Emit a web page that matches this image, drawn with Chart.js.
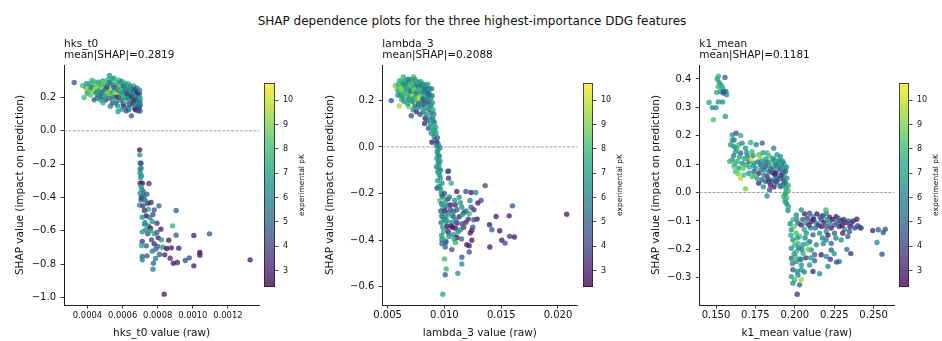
<!DOCTYPE html>
<html>
<head>
<meta charset="utf-8">
<title>SHAP dependence plots</title>
<script src="https://cdn.jsdelivr.net/npm/chart.js@4.4.1/dist/chart.umd.min.js"></script>
<style>
  html, body { margin: 0; padding: 0; background: #fff; }
  #fig { position: relative; width: 942px; height: 341px; overflow: hidden; background: #fff; }
  #fig canvas { position: absolute; top: 0; display: block; }
  #suptitle { position: absolute; left: 0; top: 14px; width: 944px; text-align: center;
              font: 12px "DejaVu Sans", sans-serif; line-height: 14px; color: #111; white-space: nowrap; }
</style>
</head>
<body>
<div id="fig">
  <div id="suptitle">SHAP dependence plots for the three highest-importance DDG features</div>
  <canvas id="panel1"></canvas>
  <canvas id="cbar1"></canvas>
  <canvas id="panel2"></canvas>
  <canvas id="cbar2"></canvas>
  <canvas id="panel3"></canvas>
  <canvas id="cbar3"></canvas>
</div>
<script>
// ---- feature names and summary values -------------------------------------
const featureNames = ['hks_t0', 'lambda_3', 'k1_mean'];
const meanAbsShap  = [0.2819, 0.2088, 0.1181];

// ---- samples: [feature value (raw), SHAP value, experimental pK] -----------
const hksT0Points = [
  [0.000324,0.290,4.5],[0.000372,0.272,8.2],[0.000381,0.200,8.0],[0.000390,0.262,7.6],[0.000398,0.238,9.2],
  [0.000404,0.250,9.6],[0.000400,0.226,7.0],[0.000412,0.282,7.4],[0.000418,0.214,8.6],[0.000425,0.302,7.6],
  [0.000428,0.262,6.8],[0.000433,0.240,9.0],[0.000438,0.186,5.0],[0.000442,0.278,8.4],[0.000447,0.228,6.2],
  [0.000452,0.256,7.8],[0.000457,0.216,8.0],[0.000460,0.292,6.6],[0.000466,0.270,9.4],[0.000470,0.244,7.2],
  [0.000475,0.186,6.8],[0.000478,0.204,4.2],[0.000482,0.262,8.8],[0.000486,0.300,7.0],[0.000490,0.232,6.0],
  [0.000494,0.226,9.0],[0.000498,0.276,7.6],[0.000502,0.250,5.6],[0.000504,0.186,3.5],[0.000508,0.212,7.8],
  [0.000513,0.306,8.0],[0.000516,0.268,6.4],[0.000520,0.240,8.4],[0.000525,0.332,6.8],[0.000528,0.196,4.6],
  [0.000532,0.288,7.4],[0.000535,0.254,9.8],[0.000538,0.226,5.8],[0.000542,0.166,4.5],[0.000546,0.276,6.2],
  [0.000551,0.316,6.6],[0.000554,0.242,7.0],[0.000558,0.208,8.2],[0.000561,0.206,3.0],[0.000564,0.290,7.8],
  [0.000568,0.260,4.8],[0.000571,0.150,6.4],[0.000574,0.116,6.8],[0.000578,0.306,8.0],[0.000581,0.236,6.0],
  [0.000585,0.272,9.2],[0.000588,0.184,5.2],[0.000592,0.218,7.2],[0.000596,0.296,6.4],[0.000599,0.252,8.6],
  [0.000603,0.160,3.8],[0.000606,0.228,5.4],[0.000608,0.146,4.0],[0.000612,0.280,7.0],[0.000616,0.286,8.0],
  [0.000619,0.200,6.2],[0.000622,0.244,4.4],[0.000626,0.176,7.6],[0.000629,0.264,6.6],[0.000632,0.138,5.6],
  [0.000636,0.126,6.8],[0.000638,0.212,3.2],[0.000641,0.232,7.4],[0.000645,0.266,6.0],[0.000648,0.188,4.8],
  [0.000650,0.090,4.5],[0.000653,0.156,6.4],[0.000656,0.248,5.0],[0.000659,0.204,7.8],[0.000662,0.170,3.6],
  [0.000664,0.250,3.0],[0.000667,0.136,5.8],[0.000670,0.222,6.8],[0.000672,0.186,2.8],[0.000674,0.126,2.5],
  [0.000677,0.240,4.2],[0.000680,0.160,6.0],[0.000683,0.236,3.5],[0.000685,0.198,5.4],[0.000688,0.144,3.2],
  [0.000690,0.172,7.0],[0.000692,0.206,6.4],[0.000694,0.130,4.6],[0.000696,0.222,5.6],[0.000698,0.176,4.8],
  [0.000698,0.150,3.0],[0.000700,0.160,6.6],[0.000700,0.196,7.2],[0.000699,0.118,5.2],[0.000566,0.180,8.8],
  [0.000488,0.168,7.4],[0.000452,0.196,5.8],[0.000530,0.148,6.0],[0.000620,0.120,4.0],[0.000596,0.130,7.0],
  [0.000395,0.285,7.0],[0.000410,0.240,8.8],[0.000420,0.260,6.4],[0.000436,0.296,8.2],[0.000445,0.250,9.8],
  [0.000455,0.236,7.0],[0.000463,0.210,6.4],[0.000472,0.280,7.8],[0.000480,0.228,5.4],[0.000492,0.290,8.6],
  [0.000500,0.200,7.0],[0.000510,0.260,4.4],[0.000518,0.222,8.8],[0.000523,0.290,6.0],[0.000537,0.310,7.2],
  [0.000545,0.196,6.6],[0.000550,0.262,5.0],[0.000557,0.228,9.4],[0.000563,0.168,5.6],[0.000570,0.246,7.0],
  [0.000576,0.200,4.0],[0.000583,0.290,6.8],[0.000590,0.254,7.8],[0.000598,0.190,6.6],[0.000604,0.270,5.2],
  [0.000610,0.214,8.0],[0.000615,0.252,6.2],[0.000624,0.222,3.8],[0.000630,0.196,6.8],[0.000634,0.280,7.4],
  [0.000640,0.160,4.4],[0.000646,0.242,6.6],[0.000652,0.206,3.4],[0.000658,0.226,5.8],[0.000663,0.270,7.0],
  [0.000668,0.192,4.2],[0.000675,0.212,6.2],[0.000681,0.256,5.0],[0.000687,0.230,3.0],[0.000693,0.150,5.8],
  [0.000697,0.244,6.6],[0.000686,0.122,4.0],
  [0.000697,-0.114,3.0],[0.000698,-0.144,7.0],[0.000700,-0.194,5.6],[0.000705,-0.194,4.5],[0.000705,-0.224,6.0],
  [0.000700,-0.254,6.2],[0.000707,-0.270,6.6],[0.000700,-0.314,3.0],[0.000712,-0.314,2.8],[0.000750,-0.316,3.5],
  [0.000705,-0.334,7.0],[0.000716,-0.364,4.5],[0.000700,-0.374,6.6],[0.000738,-0.380,4.8],[0.000707,-0.398,3.5],
  [0.000724,-0.410,6.0],[0.000705,-0.414,4.0],[0.000743,-0.434,3.0],[0.000762,-0.430,3.3],[0.000697,-0.446,6.5],
  [0.000716,-0.450,3.5],[0.000807,-0.450,5.0],[0.000746,-0.470,7.5],[0.000724,-0.478,3.5],[0.000780,-0.474,4.5],
  [0.000905,-0.478,4.8],[0.000735,-0.510,2.5],[0.000773,-0.502,4.5],[0.000712,-0.518,6.5],[0.000769,-0.544,7.0],
  [0.000728,-0.550,6.5],[0.000796,-0.554,3.5],[0.000747,-0.570,6.0],[0.000758,-0.584,2.5],[0.000818,-0.590,3.0],
  [0.000885,-0.570,7.8],[0.000731,-0.594,6.0],[0.000712,-0.606,7.0],[0.000743,-0.618,4.5],[0.000780,-0.618,7.5],
  [0.000795,-0.610,5.0],[0.000803,-0.642,3.0],[0.000822,-0.654,7.0],[0.000905,-0.626,4.8],[0.001006,-0.628,3.2],
  [0.001095,-0.618,4.5],[0.000712,-0.664,3.5],[0.000765,-0.654,4.2],[0.000863,-0.656,3.0],[0.000708,-0.688,7.2],
  [0.000735,-0.690,5.0],[0.000780,-0.678,3.3],[0.000799,-0.694,4.5],[0.000829,-0.698,6.0],[0.000852,-0.706,2.5],
  [0.000878,-0.702,3.0],[0.000920,-0.704,3.2],[0.000769,-0.722,6.0],[0.000788,-0.710,5.5],[0.000840,-0.744,3.3],
  [0.000712,-0.754,5.0],[0.000739,-0.750,4.5],[0.000788,-0.766,6.0],[0.000810,-0.742,4.8],[0.000871,-0.764,3.3],
  [0.000889,-0.794,3.0],[0.000912,-0.790,3.0],[0.000957,-0.778,4.5],[0.000980,-0.762,4.5],[0.001006,-0.810,3.0],
  [0.001040,-0.730,2.5],[0.001040,-0.746,3.0],[0.001327,-0.774,3.0],[0.000712,-0.774,6.0],[0.000776,-0.794,5.0],
  [0.000773,-0.830,6.0],[0.000837,-0.980,3.0],[0.000700,-0.230,6.2],[0.000703,-0.282,7.2],[0.000710,-0.350,6.8],
  [0.000720,-0.390,5.6],[0.000730,-0.420,6.8],[0.000755,-0.520,5.8],[0.000725,-0.560,6.4],[0.000760,-0.600,7.2]
];

const lambda3Points = [
  [0.00532,0.199,4.5],[0.00567,0.263,9.0],[0.00626,0.280,8.0],[0.00729,0.301,8.0],[0.00638,0.301,7.6],
  [0.00685,0.173,9.0],[0.00708,0.134,4.5],[0.00796,0.194,9.5],[0.00831,0.123,3.0],[0.00825,0.101,3.5],
  [0.00860,0.080,4.5],[0.00884,0.059,6.5],[0.00890,0.020,3.0],[0.00934,0.020,2.6],[0.00948,0.009,6.5],
  [0.00963,-0.003,6.8],[0.00934,-0.049,6.5],[0.00954,-0.077,7.8],[0.00942,-0.106,6.4],[0.00963,-0.134,6.6],
  [0.01036,-0.103,4.5],[0.01036,-0.134,3.5],[0.00978,-0.156,6.4],[0.01060,-0.156,7.6],[0.00603,0.176,9.5],
  [0.00585,0.245,8.6],[0.00590,0.222,6.8],[0.00595,0.268,7.4],
  [0.00600,0.240,7.2],[0.00610,0.262,8.4],[0.00615,0.225,6.6],[0.00622,0.205,7.8],[0.00628,0.250,9.2],
  [0.00635,0.272,7.0],[0.00640,0.232,8.0],[0.00645,0.196,6.2],[0.00650,0.258,7.6],[0.00655,0.284,6.8],
  [0.00660,0.214,8.8],[0.00662,0.240,5.6],[0.00668,0.268,7.4],[0.00672,0.290,8.2],[0.00676,0.186,7.0],
  [0.00680,0.228,6.4],[0.00684,0.252,9.0],[0.00688,0.205,4.8],[0.00692,0.276,6.6],[0.00696,0.238,7.8],
  [0.00700,0.262,8.6],[0.00703,0.215,7.2],[0.00706,0.290,7.0],[0.00710,0.244,6.0],[0.00714,0.196,8.2],
  [0.00717,0.270,5.4],[0.00720,0.226,9.4],[0.00724,0.160,6.8],[0.00727,0.252,7.4],[0.00730,0.282,6.2],
  [0.00734,0.208,7.0],[0.00737,0.236,8.0],[0.00740,0.178,5.0],[0.00744,0.262,6.6],[0.00747,0.195,9.8],
  [0.00750,0.222,7.6],[0.00754,0.151,3.5],[0.00757,0.275,4.5],[0.00760,0.243,7.2],[0.00763,0.205,8.8],
  [0.00766,0.170,6.4],[0.00770,0.258,5.8],[0.00773,0.228,9.2],[0.00776,0.190,7.0],[0.00780,0.268,6.8],
  [0.00783,0.210,10.0],[0.00786,0.140,4.2],[0.00790,0.236,7.8],[0.00793,0.250,5.2],[0.00797,0.172,6.6],
  [0.00800,0.220,8.4],[0.00803,0.262,4.8],[0.00806,0.198,7.2],[0.00810,0.150,5.6],[0.00813,0.240,6.2],
  [0.00816,0.270,6.6],[0.00820,0.182,4.0],[0.00823,0.216,7.4],[0.00826,0.256,5.8],[0.00830,0.165,6.8],
  [0.00834,0.200,3.8],[0.00837,0.232,6.4],[0.00840,0.140,7.0],[0.00844,0.262,4.6],[0.00847,0.186,6.0],
  [0.00850,0.115,5.0],[0.00853,0.214,7.6],[0.00856,0.244,5.4],[0.00860,0.160,6.6],[0.00863,0.195,4.4],
  [0.00866,0.228,6.2],[0.00870,0.130,7.2],[0.00873,0.176,5.6],[0.00876,0.100,6.4],[0.00880,0.208,7.0],
  [0.00884,0.150,4.8],[0.00887,0.250,6.0],[0.00890,0.085,7.4],[0.00894,0.190,6.6],[0.00897,0.120,5.2],
  [0.00900,0.160,7.8],[0.00904,0.070,6.8],[0.00907,0.140,5.8],[0.00910,0.045,6.2],[0.00913,0.105,7.0],
  [0.00918,0.030,5.4],[0.00922,0.085,6.6],[0.00926,0.060,7.2],[0.00930,0.005,6.0],[0.00935,-0.020,7.6],
  [0.00938,0.040,5.0],[0.00942,-0.030,6.8],[0.00946,-0.065,6.2],[0.00950,-0.090,7.4],[0.00955,-0.040,5.8],
  [0.00958,-0.120,6.6],[0.00962,-0.060,7.0],[0.00930,-0.085,6.4],[0.00940,-0.145,7.2],[0.00952,-0.170,6.0],
  [0.00965,-0.100,5.6],[0.00945,-0.012,6.4],
  [0.00605,0.285,7.8],[0.00618,0.248,9.0],[0.00632,0.216,7.0],[0.00648,0.270,6.4],[0.00658,0.232,8.4],
  [0.00670,0.252,7.2],[0.00682,0.290,6.0],[0.00694,0.200,7.6],[0.00702,0.240,5.8],[0.00712,0.272,8.4],
  [0.00722,0.196,6.6],[0.00732,0.246,9.0],[0.00742,0.290,7.0],[0.00752,0.232,6.2],[0.00762,0.280,7.8],
  [0.00772,0.184,5.4],[0.00782,0.246,8.2],[0.00792,0.280,6.4],[0.00802,0.236,7.0],[0.00812,0.205,4.6],
  [0.00822,0.266,7.2],[0.00832,0.240,5.6],[0.00842,0.206,6.8],[0.00852,0.270,7.4],[0.00862,0.225,5.0],
  [0.00872,0.250,6.6],[0.00882,0.178,7.0],[0.00892,0.220,5.8],[0.00902,0.110,6.6],[0.00916,0.070,7.6],
  [0.00948,-0.113,7.6],[0.01030,-0.106,4.6],[0.01359,-0.166,4.4],[0.00934,-0.177,4.8],[0.00978,-0.206,3.0],
  [0.01109,-0.191,3.2],[0.01189,-0.191,4.4],[0.01235,-0.196,3.0],[0.01276,-0.196,6.2],[0.01130,-0.216,6.6],
  [0.01323,-0.230,4.6],[0.01294,-0.241,3.0],[0.01030,-0.224,3.2],[0.01051,-0.249,2.5],[0.01095,-0.249,3.2],
  [0.01153,-0.259,6.4],[0.01235,-0.259,4.6],[0.01599,-0.253,4.8],[0.02077,-0.289,3.0],[0.01455,-0.299,3.0],
  [0.01570,-0.296,3.2],[0.00978,-0.299,5.0],[0.01036,-0.284,6.6],[0.01083,-0.277,5.0],[0.01218,-0.287,7.8],
  [0.01171,-0.281,3.2],[0.01288,-0.310,3.0],[0.01259,-0.313,4.6],[0.01013,-0.320,6.6],[0.01065,-0.324,6.4],
  [0.01109,-0.327,3.0],[0.01153,-0.330,4.8],[0.01189,-0.324,3.2],[0.01021,-0.341,2.5],[0.01059,-0.339,3.4],
  [0.01098,-0.349,3.0],[0.01142,-0.356,6.6],[0.01241,-0.359,3.0],[0.01397,-0.334,3.0],[0.01418,-0.356,4.8],
  [0.01487,-0.360,3.0],[0.00992,-0.363,7.8],[0.01036,-0.370,4.8],[0.01080,-0.377,6.4],[0.01227,-0.370,3.2],
  [0.01505,-0.401,3.0],[0.01534,-0.413,4.4],[0.01575,-0.384,3.8],[0.01616,-0.387,3.0],[0.00978,-0.399,6.6],
  [0.01013,-0.406,4.8],[0.01109,-0.389,2.6],[0.01098,-0.410,7.8],[0.01241,-0.401,3.0],[0.01197,-0.420,3.2],
  [0.01218,-0.424,3.0],[0.01400,-0.430,3.0],[0.01007,-0.430,4.8],[0.01065,-0.441,4.6],[0.01218,-0.451,4.6],
  [0.01153,-0.474,4.8],[0.01001,-0.481,8.0],[0.01153,-0.503,6.4],[0.01016,-0.524,7.8],[0.01007,-0.549,4.8],
  [0.01118,-0.543,6.6],[0.00986,-0.633,7.4],
  [0.00965,-0.180,6.6],[0.00972,-0.195,7.4],[0.00985,-0.215,6.0],[0.00960,-0.230,8.2],[0.00975,-0.245,5.4],
  [0.00990,-0.260,6.8],[0.00968,-0.275,4.8],[0.00980,-0.290,7.2],[0.00995,-0.310,6.2],[0.00970,-0.325,5.6],
  [0.00985,-0.345,7.0],[0.00975,-0.380,6.6],[0.00990,-0.395,7.8],[0.00978,-0.415,5.2],[0.01000,-0.200,4.4],
  [0.01010,-0.235,7.0],[0.01020,-0.255,5.8],[0.01005,-0.275,3.0],[0.01015,-0.300,6.4],[0.01025,-0.318,7.4],
  [0.01030,-0.360,4.2],[0.01040,-0.385,6.8],[0.01012,-0.410,5.4],[0.01045,-0.215,6.2],[0.01055,-0.270,4.6],
  [0.01065,-0.295,7.2],[0.01070,-0.345,2.6],[0.01080,-0.300,5.6],[0.01090,-0.230,6.6],[0.01085,-0.395,7.6],
  [0.01100,-0.315,6.0],[0.01110,-0.270,5.0],[0.01120,-0.365,6.4],[0.01130,-0.300,3.4],[0.01140,-0.240,7.0],
  [0.01150,-0.395,5.2],[0.01160,-0.290,6.8],[0.01170,-0.345,4.0],[0.01190,-0.275,5.8],[0.01210,-0.310,3.2],
  [0.01225,-0.230,6.0],[0.01250,-0.345,4.4],[0.01260,-0.270,3.8]
];

const k1MeanPoints = [
  [0.1515,0.410,8.0],[0.1508,0.400,7.0],[0.1557,0.405,5.0],[0.1521,0.387,6.6],[0.1536,0.376,6.4],
  [0.1542,0.367,8.0],[0.1515,0.373,7.8],[0.1504,0.352,7.6],[0.1529,0.356,6.8],[0.1551,0.356,4.8],
  [0.1563,0.356,5.2],[0.1567,0.344,6.8],[0.1500,0.299,6.6],[0.1515,0.319,6.8],[0.1542,0.319,6.4],
  [0.1456,0.317,7.4],[0.1477,0.299,6.6],[0.1483,0.256,8.2],[0.1559,0.268,7.0],[0.1546,0.350,4.4],
  [0.1603,0.203,6.6],[0.1628,0.209,4.5],[0.1603,0.185,7.6],[0.1656,0.201,7.8],[0.1614,0.162,6.6],
  [0.1593,0.168,6.8],[0.1645,0.168,8.0],[0.1666,0.174,6.4],[0.1624,0.144,6.8],[0.1656,0.139,5.0],
  [0.1687,0.156,6.6],[0.1755,0.168,6.2],[0.1793,0.174,5.2],[0.1729,0.144,8.0],[0.1771,0.133,8.4],
  [0.1866,0.156,6.4],[0.1824,0.139,7.8],[0.1887,0.133,6.6],[0.1908,0.127,6.8],[0.1603,0.115,6.6],
  [0.1587,0.109,8.0],[0.1635,0.109,7.6],[0.1666,0.103,6.4],[0.1614,0.092,8.4],[0.1645,0.086,6.8],
  [0.1687,0.097,7.6],[0.1708,0.109,5.2],[0.1740,0.103,6.6],[0.1750,0.086,6.8],[0.1782,0.097,4.8],
  [0.1813,0.103,6.6],[0.1856,0.109,7.8],[0.1877,0.097,5.4],[0.1898,0.109,6.8],[0.1929,0.103,6.4],
  [0.1624,0.074,8.2],[0.1656,0.050,9.8],[0.1677,0.062,8.0],[0.1708,0.068,6.6],[0.1740,0.074,5.0],
  [0.1771,0.068,3.0],[0.1803,0.080,6.8],[0.1835,0.074,5.2],[0.1866,0.086,6.6],[0.1908,0.080,4.8],
  [0.1729,0.056,8.2],[0.1761,0.050,6.8],[0.1792,0.045,5.0],[0.1824,0.056,3.2],[0.1845,0.045,6.6],
  [0.1877,0.056,5.4],[0.1919,0.062,6.8],[0.1929,0.045,3.0],[0.1771,0.033,3.4],[0.1813,0.039,6.6],
  [0.1845,0.027,3.0],[0.1887,0.033,6.4],[0.1908,0.021,4.6],[0.1940,0.033,3.2],[0.1950,0.050,6.8],
  [0.1687,0.013,8.8],[0.1944,0.015,6.6],[0.1944,0.000,6.8],[0.1957,0.006,8.0],
  [0.1725,0.118,10.2],[0.1778,0.127,9.4],[0.1641,0.066,9.0],[0.1700,0.128,6.0],[0.1738,0.094,7.2],
  [0.1790,0.110,6.4],[0.1805,0.062,5.8],[0.1840,0.094,6.2],[0.1855,0.070,4.2],[0.1870,0.115,7.0],
  [0.1880,0.040,3.6],[0.1895,0.088,5.6],[0.1915,0.095,6.0],[0.1925,0.070,5.4],[0.1935,0.058,7.4],
  [0.1815,0.118,7.0],[0.1838,0.128,8.2],[0.1860,0.040,4.8],[0.1900,0.050,6.0],[0.1682,0.120,7.4],
  [0.1612,0.130,6.0],[0.1630,0.155,7.2],[0.1720,0.176,7.6],[0.1615,0.185,5.8],[0.1880,0.070,2.8],
  [0.1920,0.026,5.6],[0.1930,0.085,6.6],
  [0.1620,0.100,7.8],[0.1650,0.125,7.0],[0.1672,0.085,8.6],[0.1695,0.140,6.8],[0.1712,0.090,7.4],
  [0.1735,0.130,6.4],[0.1748,0.060,8.0],[0.1765,0.108,5.6],[0.1785,0.080,6.2],[0.1798,0.140,7.2],
  [0.1812,0.090,4.6],[0.1828,0.108,6.0],[0.1832,0.040,3.4],[0.1848,0.080,5.0],[0.1862,0.120,6.8],
  [0.1872,0.065,3.2],[0.1885,0.100,6.2],[0.1892,0.045,5.0],[0.1905,0.115,7.0],[0.1912,0.060,3.8],
  [0.1922,0.110,6.6],[0.1932,0.035,6.0],[0.1942,0.075,4.4],[0.1948,0.090,6.8],[0.1958,0.025,7.6],
  [0.1868,0.020,3.0],[0.1800,0.020,6.4],[0.1840,0.010,4.2],
  [0.1929,-0.014,8.0],[0.1936,-0.026,8.2],[0.1942,-0.035,6.8],[0.1938,-0.005,7.6],[0.1948,-0.018,7.8],
  [0.1950,-0.040,7.2],[0.1824,-0.012,6.4],[0.1956,-0.063,6.6],[0.1960,-0.050,7.4],
  [0.2041,-0.061,6.6],[0.2009,-0.079,6.4],[0.2062,-0.075,3.0],[0.2094,-0.073,4.4],[0.2115,-0.085,6.6],
  [0.2140,-0.075,3.0],[0.2178,-0.082,3.2],[0.2199,-0.073,6.2],[0.2220,-0.087,3.0],[0.2197,-0.061,8.0],
  [0.2262,-0.085,3.0],[0.2294,-0.099,3.2],[0.2325,-0.106,3.0],[0.2357,-0.108,4.4],[0.2393,-0.094,3.0],
  [0.2410,-0.122,6.0],[0.2399,-0.117,4.6],[0.2494,-0.134,3.2],[0.2530,-0.131,4.8],[0.2561,-0.141,4.4],
  [0.2574,-0.129,4.8],[0.2521,-0.176,6.4],[0.2553,-0.217,4.4],[0.1988,-0.096,8.0],[0.2020,-0.108,5.0],
  [0.2041,-0.114,3.2],[0.2073,-0.108,6.4],[0.2104,-0.102,3.0],[0.2136,-0.108,6.2],[0.2167,-0.096,4.6],
  [0.2220,-0.108,6.4],[0.2252,-0.114,4.8],[0.2283,-0.120,3.0],[0.2315,-0.129,6.2],[0.2346,-0.137,4.6],
  [0.2304,-0.143,3.2],[0.2336,-0.155,4.8],[0.1978,-0.131,6.6],[0.2009,-0.143,8.2],[0.2030,-0.155,8.0],
  [0.2073,-0.143,6.4],[0.2115,-0.149,5.0],[0.2157,-0.143,6.4],[0.2199,-0.137,6.6],[0.2252,-0.143,5.0],
  [0.1988,-0.167,6.6],[0.2020,-0.179,8.2],[0.2052,-0.184,6.8],[0.2094,-0.173,4.8],[0.2136,-0.184,6.4],
  [0.2199,-0.167,6.2],[0.2231,-0.179,5.0],[0.2294,-0.167,6.4],[0.1978,-0.196,6.8],[0.2009,-0.208,8.0],
  [0.2052,-0.214,7.6],[0.2104,-0.202,6.6],[0.2125,-0.219,4.8],[0.2167,-0.219,3.0],[0.2199,-0.225,6.4],
  [0.2231,-0.202,5.0],[0.2283,-0.243,6.4],[0.1978,-0.231,5.0],[0.2009,-0.243,6.6],[0.2041,-0.255,6.8],
  [0.2094,-0.255,6.6],[0.2125,-0.240,5.0],[0.1988,-0.272,4.8],[0.2015,-0.278,6.4],[0.1978,-0.296,6.8],
  [0.1999,-0.307,8.0],[0.2041,-0.307,9.2],[0.2030,-0.325,5.0],[0.2115,-0.278,3.2],[0.2157,-0.286,6.4],
  [0.2041,-0.272,6.6],[0.2015,-0.358,3.4],[0.1988,-0.319,6.4],
  [0.1970,-0.110,6.0],[0.1975,-0.150,7.4],[0.1995,-0.120,8.6],[0.2000,-0.185,7.8],[0.2005,-0.225,8.4],
  [0.1985,-0.250,6.2],[0.2025,-0.195,5.6],[0.2030,-0.235,7.0],[0.2020,-0.290,6.0],[0.2060,-0.130,7.2],
  [0.2065,-0.160,6.2],[0.2080,-0.090,4.0],[0.2085,-0.200,8.4],[0.2070,-0.230,3.6],[0.2100,-0.125,6.8],
  [0.2120,-0.095,2.8],[0.2150,-0.115,3.6],[0.2160,-0.085,4.8],[0.2185,-0.105,3.0],[0.2205,-0.095,6.6],
  [0.2240,-0.095,2.8],[0.2270,-0.105,4.2],[0.2310,-0.095,3.4],[0.2350,-0.120,3.0],[0.2380,-0.125,4.0],
  [0.2420,-0.125,3.6],[0.2175,-0.160,5.8],[0.2210,-0.150,3.0],[0.2260,-0.160,6.0],[0.2250,-0.215,6.8],
  [0.2330,-0.200,5.6],[0.2210,-0.260,6.0],[0.2355,-0.215,3.6],[0.2265,-0.245,4.2],
  [0.2012,-0.095,6.8],[0.2050,-0.095,5.2],[0.2090,-0.115,3.4],[0.2130,-0.125,5.6],[0.2170,-0.120,3.2],
  [0.2200,-0.120,4.4],[0.2230,-0.125,3.0],[0.2275,-0.090,5.0],[0.2300,-0.115,2.8],[0.2340,-0.100,4.8],
  [0.2370,-0.100,3.2],[0.2015,-0.160,7.2],[0.2045,-0.200,6.2],[0.2075,-0.180,7.8],[0.2040,-0.235,5.4],
  [0.1995,-0.215,7.0],[0.2060,-0.280,6.0],[0.2100,-0.230,6.8],[0.2180,-0.180,6.0],[0.2225,-0.235,3.6]
];

// ---- tick labels ------------------------------------------------------------
const hksT0Ticks   = [0.0004, 0.0006, 0.0008, 0.0010, 0.0012];
const lambda3Ticks = [0.005, 0.010, 0.015, 0.020];
const k1MeanTicks  = [0.150, 0.175, 0.200, 0.225, 0.250];
const hksT0ShapTicks   = [-1.0, -0.8, -0.6, -0.4, -0.2, 0.0, 0.2];
const lambda3ShapTicks = [-0.6, -0.4, -0.2, 0.0, 0.2];
const k1MeanShapTicks  = [-0.3, -0.2, -0.1, 0.0, 0.1, 0.2, 0.3, 0.4];
const pkTicks = [3, 4, 5, 6, 7, 8, 9, 10];

// colour scale limits for experimental pK
const PK_MIN = 2.33, PK_MAX = 10.7;

// ---- styling ------------------------------------------------------------------
const FONT = '"DejaVu Sans", "Liberation Sans", sans-serif';
const TEXT = '#111';
const AXIS = '#222';
const FIG_H = 341;
const PLOT_TOP = 65, PLOT_BOTTOM = 305;
const CB_TOP = 83, CB_BOTTOM = 287;
const POINT_ALPHA = 0.78;

const VIRIDIS = ['#440154','#482475','#414487','#355f8d','#2a788e','#21918c',
                 '#22a884','#44bf70','#7ad151','#bddf26','#fde725'];

function hexRgb(h) {
  return [parseInt(h.slice(1,3),16), parseInt(h.slice(3,5),16), parseInt(h.slice(5,7),16)];
}
function viridis(t, a) {
  t = Math.min(1, Math.max(0, t));
  const f = t * (VIRIDIS.length - 1);
  const i = Math.min(VIRIDIS.length - 2, Math.floor(f));
  const u = f - i;
  const c0 = hexRgb(VIRIDIS[i]), c1 = hexRgb(VIRIDIS[i + 1]);
  const c = c0.map((v, k) => Math.round(v + (c1[k] - v) * u));
  return `rgba(${c[0]},${c[1]},${c[2]},${a})`;
}
function pkColor(pk, a) {
  return viridis((pk - PK_MIN) / (PK_MAX - PK_MIN), a);
}
function fmtTick(v, dec) {
  return (v < -1e-12 ? '\u2212' : '') + Math.abs(v).toFixed(dec);
}

// dashed zero line and two-line panel heading
const panelDecor = {
  id: 'panelDecor',
  beforeDatasetsDraw(chart) {
    const {ctx, chartArea} = chart;
    const y0 = chart.scales.y.getPixelForValue(0);
    ctx.save();
    ctx.strokeStyle = '#8c8c8c';
    ctx.lineWidth = 0.8;
    ctx.setLineDash([3, 1.4]);
    ctx.beginPath();
    ctx.moveTo(chartArea.left, y0);
    ctx.lineTo(chartArea.right, y0);
    ctx.stroke();
    ctx.restore();
  },
  afterDraw(chart, args, opts) {
    const {ctx, chartArea} = chart;
    ctx.save();
    ctx.fillStyle = TEXT;
    ctx.font = `10.5px ${FONT}`;
    ctx.textAlign = 'left';
    ctx.textBaseline = 'alphabetic';
    (opts.lines || []).forEach((line, i) => ctx.fillText(line, chartArea.left, 46.5 + i * 11.8));
    ctx.restore();
  }
};

// viridis strip, outline and label of a colour bar
const colorbarStrip = {
  id: 'colorbarStrip',
  beforeDraw(chart, args, opts) {
    const {ctx, chartArea: a} = chart;
    const g = ctx.createLinearGradient(0, a.bottom, 0, a.top);
    for (let i = 0; i <= 40; i++) g.addColorStop(i / 40, viridis(i / 40, POINT_ALPHA));
    ctx.save();
    ctx.fillStyle = g;
    ctx.fillRect(a.left, a.top, a.right - a.left, a.bottom - a.top);
    ctx.restore();
  },
  afterDraw(chart, args, opts) {
    const {ctx, chartArea: a} = chart;
    ctx.save();
    ctx.strokeStyle = AXIS;
    ctx.lineWidth = 0.8;
    ctx.strokeRect(a.left + 0.4, a.top + 0.4, a.right - a.left - 0.8, a.bottom - a.top - 0.8);
    ctx.translate(a.right + opts.labelOffset, (a.top + a.bottom) / 2);
    ctx.rotate(-Math.PI / 2);
    ctx.fillStyle = TEXT;
    ctx.font = `7.5px ${FONT}`;
    ctx.textAlign = 'center';
    ctx.textBaseline = 'middle';
    ctx.fillText('experimental pK', 0, 0);
    ctx.restore();
  }
};

function setupCanvas(id, left, width) {
  const c = document.getElementById(id);
  c.width = width; c.height = FIG_H;
  c.style.left = left + 'px';
  c.style.width = width + 'px';
  c.style.height = FIG_H + 'px';
  return c;
}

function makePanel(cfg) {
  const canvas = setupCanvas(cfg.canvasId, cfg.canvasLeft, cfg.canvasWidth);
  const gridOpts = { drawOnChartArea: false, drawTicks: true, tickLength: 3.5, color: AXIS, lineWidth: 0.9 };
  const borderOpts = { display: true, color: AXIS, width: 1 };
  return new Chart(canvas, {
    type: 'scatter',
    data: {
      datasets: [{
        data: cfg.points.map(p => ({ x: p[0], y: p[1], pk: p[2] })),
        backgroundColor: c => pkColor(c.raw ? c.raw.pk : 6, POINT_ALPHA),
        borderWidth: 0,
        pointRadius: 2.7,
        pointHoverRadius: 2.7
      }]
    },
    options: {
      responsive: false, animation: false, devicePixelRatio: 1,
      layout: { padding: { left: 0, top: PLOT_TOP, bottom: 0,
                           right: cfg.canvasLeft + cfg.canvasWidth - cfg.plotRight } },
      plugins: {
        legend: { display: false }, tooltip: { enabled: false },
        panelDecor: { lines: [cfg.feature, 'mean|SHAP|=' + cfg.meanAbs.toFixed(4)] }
      },
      scales: {
        x: {
          type: 'linear', min: cfg.xMin, max: cfg.xMax,
          afterBuildTicks: s => { s.ticks = cfg.xTicks.map(v => ({ value: v })); },
          afterFit: s => { s.height = FIG_H - PLOT_BOTTOM; },
          ticks: { callback: v => fmtTick(v, cfg.xDec), color: TEXT, padding: cfg.xTickPad,
                   autoSkip: false, maxRotation: 0, minRotation: 0,
                   font: { family: FONT, size: cfg.xTickSize } },
          grid: gridOpts, border: borderOpts,
          title: { display: true, text: cfg.feature + ' value (raw)', color: TEXT,
                   font: { family: FONT, size: 10.5 }, padding: { top: 0, bottom: 1 } }
        },
        y: {
          type: 'linear', min: cfg.yMin, max: cfg.yMax,
          afterBuildTicks: s => { s.ticks = cfg.yTicks.map(v => ({ value: v })); },
          afterFit: s => { s.width = cfg.plotLeft - cfg.canvasLeft; },
          ticks: { callback: v => fmtTick(v, 1), color: TEXT, padding: 4.5, autoSkip: false,
                   font: { family: FONT, size: 10 } },
          grid: gridOpts, border: borderOpts,
          title: { display: true, text: 'SHAP value (impact on prediction)', color: TEXT,
                   font: { family: FONT, size: 10.5 },
                   padding: { top: cfg.yTitleX - cfg.canvasLeft - 6.3, bottom: 0 } }
        }
      }
    },
    plugins: [panelDecor]
  });
}

function makeColorbar(id, left, barWidth) {
  const axisW = 42;
  const canvas = setupCanvas(id, left, barWidth + axisW);
  return new Chart(canvas, {
    type: 'scatter',
    data: { datasets: [] },
    options: {
      responsive: false, animation: false, devicePixelRatio: 1,
      layout: { padding: { left: 0, right: 0, top: CB_TOP, bottom: FIG_H - CB_BOTTOM } },
      plugins: { legend: { display: false }, tooltip: { enabled: false },
                 colorbarStrip: { labelOffset: 27 } },
      scales: {
        x: { display: false, min: 0, max: 1 },
        y: {
          position: 'right', min: PK_MIN, max: PK_MAX,
          afterBuildTicks: s => { s.ticks = pkTicks.map(v => ({ value: v })); },
          afterFit: s => { s.width = axisW; },
          ticks: { color: TEXT, padding: 4.5, font: { family: FONT, size: 8 } },
          grid: { drawOnChartArea: false, drawTicks: true, tickLength: 3.5, color: AXIS, lineWidth: 0.8 },
          border: { display: false }
        }
      }
    },
    plugins: [colorbarStrip]
  });
}

makePanel({ canvasId: 'panel1', canvasLeft: 0, canvasWidth: 262, plotLeft: 64, plotRight: 260,
            feature: featureNames[0], meanAbs: meanAbsShap[0], points: hksT0Points,
            xMin: 0.000266, xMax: 0.001379, xTicks: hksT0Ticks, xDec: 4, xTickSize: 8.4, xTickPad: 2.5,
            yMin: -1.045, yMax: 0.395, yTicks: hksT0ShapTicks, yTitleX: 20 });
makePanel({ canvasId: 'panel2', canvasLeft: 320, canvasWidth: 260, plotLeft: 382.3, plotRight: 577.7,
            feature: featureNames[1], meanAbs: meanAbsShap[1], points: lambda3Points,
            xMin: 0.00453, xMax: 0.0217, xTicks: lambda3Ticks, xDec: 3, xTickSize: 10, xTickPad: 1,
            yMin: -0.679, yMax: 0.352, yTicks: lambda3ShapTicks, yTitleX: 330 });
makePanel({ canvasId: 'panel3', canvasLeft: 630, canvasWidth: 267, plotLeft: 699.3, plotRight: 895,
            feature: featureNames[2], meanAbs: meanAbsShap[2], points: k1MeanPoints,
            xMin: 0.1394, xMax: 0.2631, xTicks: k1MeanTicks, xDec: 3, xTickSize: 10, xTickPad: 1,
            yMin: -0.396, yMax: 0.449, yTicks: k1MeanShapTicks, yTitleX: 656.7 });

makeColorbar('cbar1', 264, 11);
makeColorbar('cbar2', 582.7, 10.6);
makeColorbar('cbar3', 899.3, 10);
</script>
</body>
</html>
